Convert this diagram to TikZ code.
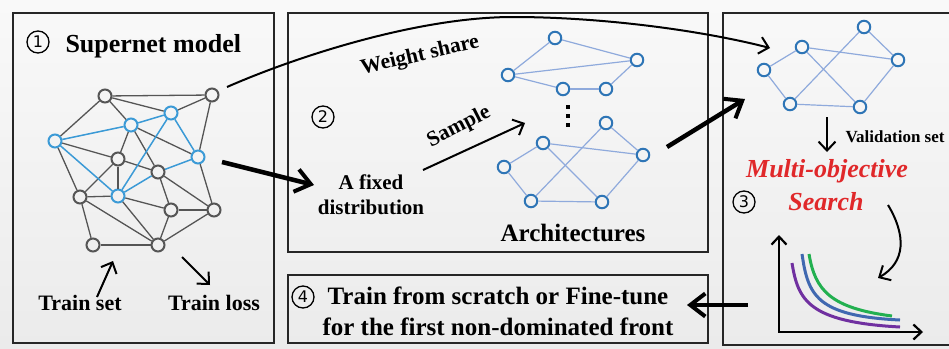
\documentclass[tikz,border=0pt]{standalone}
\usepackage{fontspec}
\setmainfont{Liberation Serif}
\newfontfamily\circfont{DejaVu Sans}
\usetikzlibrary{arrows.meta}

\definecolor{bgtop}{HTML}{F9F9F9}
\definecolor{bgbot}{HTML}{EBEBEB}
\definecolor{sngray}{HTML}{555555}
\definecolor{snblue}{HTML}{3B9AD6}
\definecolor{archnode}{HTML}{2E75B6}
\definecolor{archedge}{HTML}{8FAADC}
\definecolor{searchred}{HTML}{E0282A}
\definecolor{frontpurple}{HTML}{7030A0}
\definecolor{frontblue}{HTML}{4068B0}
\definecolor{frontgreen}{HTML}{22B050}

\tikzset{
  panel/.style={draw=black!85, line width=1.4pt},
  sng/.style={circle, draw=sngray, line width=2pt, minimum size=13pt, inner sep=0pt},
  snb/.style={sng, draw=snblue},
  ge/.style={draw=sngray, line width=1.3pt},
  be/.style={draw=snblue, line width=1.5pt},
  an/.style={circle, draw=archnode, line width=2pt, minimum size=12.5pt, inner sep=0pt},
  ae/.style={draw=archedge, line width=1.2pt},
  circnum/.style={circle, draw=black, line width=1.3pt, minimum size=22pt, inner sep=0pt,
    font=\circfont\fontsize{16}{16}\selectfont},
  thinarrow/.style={line width=2pt, -{Straight Barb[length=9pt,width=17pt,line width=2pt]}},
  thickarrow/.style={line width=4.5pt, -{Straight Barb[length=15pt,width=23pt,line width=4pt]}},
}

\begin{document}
\begin{tikzpicture}[x=1pt,y=-1pt]
\useasboundingbox (0,0) rectangle (949,348);
\shade[top color=bgtop,bottom color=bgbot] (0,0) rectangle (949,348);

% the four panels
\draw[panel] (13,13) rectangle (274,343);
\draw[panel] (288,13) rectangle (708,252);
\draw[panel] (723,13) rectangle (960,345);
\draw[panel] (288,275) rectangle (708,343);

% ---- panel 1: supernet ----
\node[circnum] (n1) at (38,42) {1};
\node[anchor=base west, font=\bfseries\fontsize{26}{30}\selectfont] (t1) at (62,52) {Supernet model};

\node[sng] (A) at (105,96) {};
\node[sng] (B) at (212,95) {};
\node[snb] (C) at (171,113) {};
\node[snb] (D) at (131,125) {};
\node[snb] (E) at (55,141) {};
\node[snb] (F) at (198,157) {};
\node[sng] (G) at (118,159) {};
\node[sng] (H) at (158,172) {};
\node[sng] (I) at (80,197) {};
\node[snb] (J) at (118,196) {};
\node[sng] (K) at (171,210) {};
\node[sng] (L) at (214,210) {};
\node[sng] (M) at (93,245) {};
\node[sng] (N) at (158,245) {};

\foreach \u/\v in {A/B,A/C,A/D,A/E,B/C,B/F,D/G,D/H,D/F,E/G,E/I,G/I,G/J,G/H,I/J,I/M,I/N,J/K,J/N,H/K,H/L,K/L,K/N,L/N,F/L,M/N}
  \draw[ge] (\u) -- (\v);
\foreach \u/\v in {E/D,D/C,E/J,J/C,C/F,J/H,H/F}
  \draw[be] (\u) -- (\v);

\coordinate (tsA) at (97,297);
\coordinate (tsB) at (113,261);
\coordinate (tlA) at (182,257);
\coordinate (tlB) at (210,285);
\draw[thinarrow] (tsA) -- (tsB);
\draw[thinarrow] (tlA) -- (tlB);
\node[anchor=base, font=\bfseries\fontsize{22}{26}\selectfont] (trainset) at (80,310) {Train set};
\node[anchor=base, font=\bfseries\fontsize{22}{26}\selectfont] (trainloss) at (214,310) {Train loss};

% ---- panel 2: sampling ----
\node[circnum] (n2) at (323,117) {2};
\node[rotate=13, font=\bfseries\fontsize{21.5}{24}\selectfont, inner sep=1pt] (ws) at (420,56) {Weight share};
\node[rotate=27, font=\bfseries\fontsize{21.5}{24}\selectfont, inner sep=1pt] (smp) at (459,127) {Sample};
\node[align=center, font=\bfseries\fontsize{21}{25}\selectfont] (dist) at (371,195) {A fixed\\distribution};
\node[anchor=base, font=\bfseries\fontsize{25}{30}\selectfont] (archs) at (573,241) {Architectures};

\node[an] (a1) at (555,38) {};
\node[an] (a2) at (637,60) {};
\node[an] (a3) at (508,75) {};
\node[an] (a4) at (563,89) {};
\node[an] (a5) at (606,89) {};
\foreach \u/\v in {a1/a2,a1/a3,a3/a2,a3/a4,a4/a5,a5/a2}
  \draw[ae] (\u) -- (\v);

\foreach \y in {107,116,125}
  \fill (566,\y-2) rectangle (570,\y+2);

\node[an] (b1) at (606,123) {};
\node[an] (b2) at (543,143) {};
\node[an] (b3) at (643,155) {};
\node[an] (b4) at (504,167) {};
\node[an] (b5) at (531,201) {};
\node[an] (b6) at (602,202) {};
\foreach \u/\v in {b4/b2,b2/b3,b1/b3,b3/b6,b6/b5,b5/b4,b2/b6,b1/b5}
  \draw[ae] (\u) -- (\v);

\coordinate (smpA) at (423,170);
\coordinate (smpB) at (525,123);
\draw[thinarrow] (smpA) -- (smpB);

% ---- panel 3: search ----
\node[an] (c1) at (864,27) {};
\node[an] (c2) at (802,47) {};
\node[an] (c3) at (898,60) {};
\node[an] (c4) at (764,70) {};
\node[an] (c5) at (790,104) {};
\node[an] (c6) at (860,107) {};
\foreach \u/\v in {c4/c2,c2/c3,c1/c3,c3/c6,c6/c5,c5/c4,c2/c6,c1/c5}
  \draw[ae] (\u) -- (\v);

\coordinate (valA) at (827,117);
\coordinate (valB) at (827,152);
\draw[thinarrow] (valA) -- (valB);
\node[anchor=base, font=\bfseries\fontsize{17}{20}\selectfont] (valset) at (895,142) {Validation set};
\node[anchor=base, text=searchred, font=\bfseries\itshape\fontsize{26}{30}\selectfont] (mo) at (827,177) {Multi-objective};
\node[anchor=base, text=searchred, font=\bfseries\itshape\fontsize{26}{30}\selectfont] (srch) at (826,210) {Search};
\node[circnum] (n3) at (744,202) {3};

\coordinate (crvA) at (888,205);
\coordinate (crvB) at (878,278);
\draw[thinarrow] (crvA) .. controls (906,235) and (906,262) .. (crvB);

% Pareto fronts
\coordinate (org) at (779,332);
\coordinate (yax) at (779,235);
\coordinate (xax) at (923,332);
\draw[line width=2.5pt, {Straight Barb[length=8pt,width=15pt,line width=2.2pt]}-{Straight Barb[length=8pt,width=15pt,line width=2.2pt]}, line join=miter] (yax) -- (org) -- (xax);
\draw[frontpurple, line width=3pt] (792,263) .. controls (798,300) and (808,322) .. (900,327);
\draw[frontblue, line width=3pt] (802,254) .. controls (808,295) and (816,316) .. (900,320);
\draw[frontgreen, line width=3pt] (809,254) .. controls (815,290) and (830,308) .. (892,316);

% ---- panel 4: retraining ----
\node[circnum] (n4) at (303,297) {4};
\node[align=center, font=\bfseries\fontsize{25}{31}\selectfont] (final) at (498,311)
  {Train from scratch or Fine-tune\\for the first non-dominated front};

% ---- connectors between panels ----
\coordinate (wsA) at (227,87);
\coordinate (wsP) at (513,17);
\coordinate (wsB) at (770,48);
\draw[thinarrow] (wsA) .. controls (300,55) and (420,17) .. (wsP) .. controls (600,17) and (700,30) .. (wsB);

\coordinate (k1A) at (222,162);
\coordinate (k1B) at (314,185);
\draw[thickarrow] (k1A) -- (k1B);
\coordinate (k2A) at (667,147);
\coordinate (k2B) at (745,99);
\draw[thickarrow] (k2A) -- (k2B);
\coordinate (k3A) at (748,305);
\coordinate (k3B) at (687,305);
\draw[thickarrow] (k3A) -- (k3B);
\end{tikzpicture}
\end{document}
